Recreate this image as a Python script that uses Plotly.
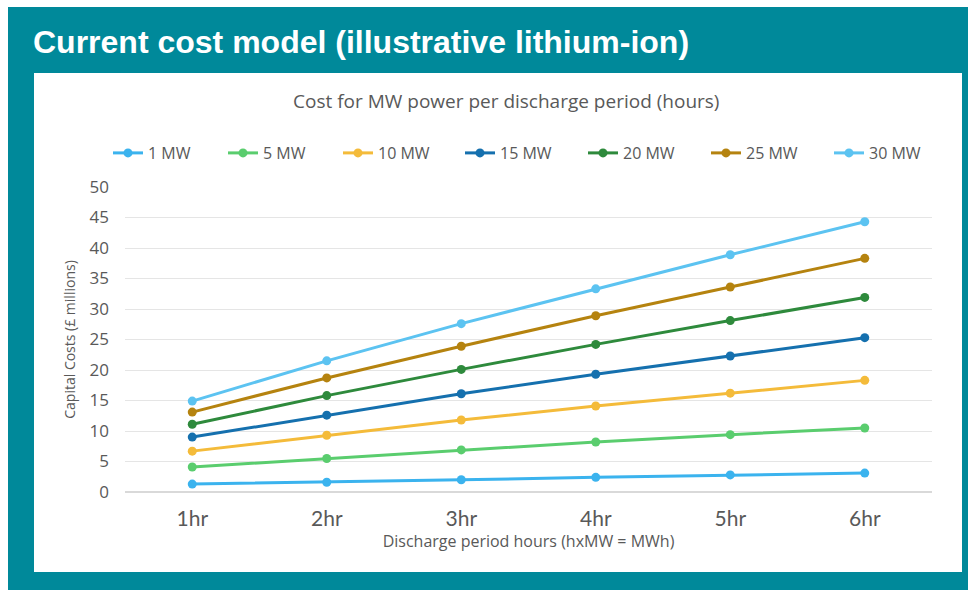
"""Current cost model chart (illustrative lithium-ion)."""

import plotly.graph_objects as go

# ===== Data =====
hours = ["1hr", "2hr", "3hr", "4hr", "5hr", "6hr"]

series_names = ["1 MW", "5 MW", "10 MW", "15 MW", "20 MW", "25 MW", "30 MW"]

mw_1 = [1.3, 1.6, 2.0, 2.4, 2.8, 3.1]
mw_5 = [4.1, 5.5, 6.9, 8.2, 9.4, 10.5]
mw_10 = [6.7, 9.3, 11.8, 14.1, 16.2, 18.3]
mw_15 = [9.0, 12.6, 16.1, 19.3, 22.3, 25.3]
mw_20 = [11.1, 15.8, 20.1, 24.2, 28.1, 31.9]
mw_25 = [13.1, 18.7, 23.9, 28.9, 33.6, 38.3]
mw_30 = [14.9, 21.5, 27.6, 33.3, 38.9, 44.3]

series_values = [mw_1, mw_5, mw_10, mw_15, mw_20, mw_25, mw_30]

series_colors = [
    "#3BB3EE",  # light blue
    "#5ACD6E",  # green
    "#F4BB3A",  # yellow
    "#1570AE",  # dark blue
    "#2E8A3C",  # dark green
    "#B5830F",  # goldenrod
    "#5CC3F1",  # sky blue
]

# legend entry widths (px), so the entries sit where the original ones do
legend_widths = [70, 70, 77, 78, 78, 78, 78]

TEAL = "#00899A"
GREY = "#595959"

# ===== Figure =====
fig = go.Figure()

for name, values, color, lw in zip(series_names, series_values, series_colors, legend_widths):
    fig.add_trace(
        go.Scatter(
            x=hours,
            y=values,
            name=name,
            mode="lines+markers",
            line={"color": color, "width": 3},
            marker={"color": color, "size": 9},
            legendwidth=lw,
        )
    )

# plot area in pixels: x 125..932, y 187..492
PX_W, PX_H = 807, 305


def px_x(px):
    return (px - 125) / PX_W


def px_y(py):
    return (492 - py) / PX_H


fig.update_layout(
    width=968,
    height=590,
    margin={"l": 125, "r": 36, "t": 187, "b": 98},
    paper_bgcolor="white",
    plot_bgcolor="white",
    font={"family": "Open Sans, sans-serif", "color": GREY, "size": 14},
    shapes=[
        dict(type="rect", xref="paper", yref="paper", layer="below",
             x0=px_x(8), x1=px_x(970), y0=px_y(592), y1=px_y(7),
             fillcolor=TEAL, line={"width": 0}),
        dict(type="rect", xref="paper", yref="paper", layer="below",
             x0=px_x(34), x1=px_x(962), y0=px_y(572), y1=px_y(73),
             fillcolor="white", line={"width": 0}),
    ],
    annotations=[
        dict(text="<b>Current cost model (illustrative lithium-ion)</b>",
             xref="paper", yref="paper", x=px_x(31), y=px_y(42),
             xanchor="left", yanchor="middle", showarrow=False,
             font={"family": "Liberation Sans, Arial, sans-serif",
                   "size": 32, "color": "white"}),
        dict(text="Cost for MW power per discharge period (hours)",
             xref="paper", yref="paper", x=px_x(506), y=px_y(101),
             xanchor="center", yanchor="middle", showarrow=False,
             font={"size": 19, "color": GREY}),
    ],
    legend={
        "orientation": "h",
        "x": px_x(108),
        "y": px_y(153),
        "xanchor": "left",
        "yanchor": "middle",
        "font": {"size": 16, "color": GREY},
        "itemwidth": 30,
        "bgcolor": "rgba(0,0,0,0)",
    },
    showlegend=True,
)

fig.update_xaxes(
    type="category",
    range=[-0.5, 5.5],
    showgrid=False,
    showline=False,
    ticks="",
    ticklabelstandoff=12,
    tickfont={"size": 21, "color": GREY, "family": "Lato, sans-serif"},
    title={"text": "Discharge period hours (hxMW = MWh)",
           "font": {"size": 16, "color": GREY}, "standoff": 6},
)

fig.update_yaxes(
    range=[0, 50],
    dtick=5,
    showgrid=True,
    gridcolor="#E5E5E5",
    gridwidth=1,
    zeroline=True,
    zerolinecolor="#D9D9D9",
    ticks="",
    tickfont={"size": 17, "color": GREY},
    ticklabelstandoff=15,
    title={"text": "Capital Costs (£ millions)",
           "font": {"size": 14, "color": GREY}, "standoff": 10},
)

fig.write_html(
    "out.html",
    config={"displayModeBar": False},
    post_script="document.body.style.margin = '0';",
)
